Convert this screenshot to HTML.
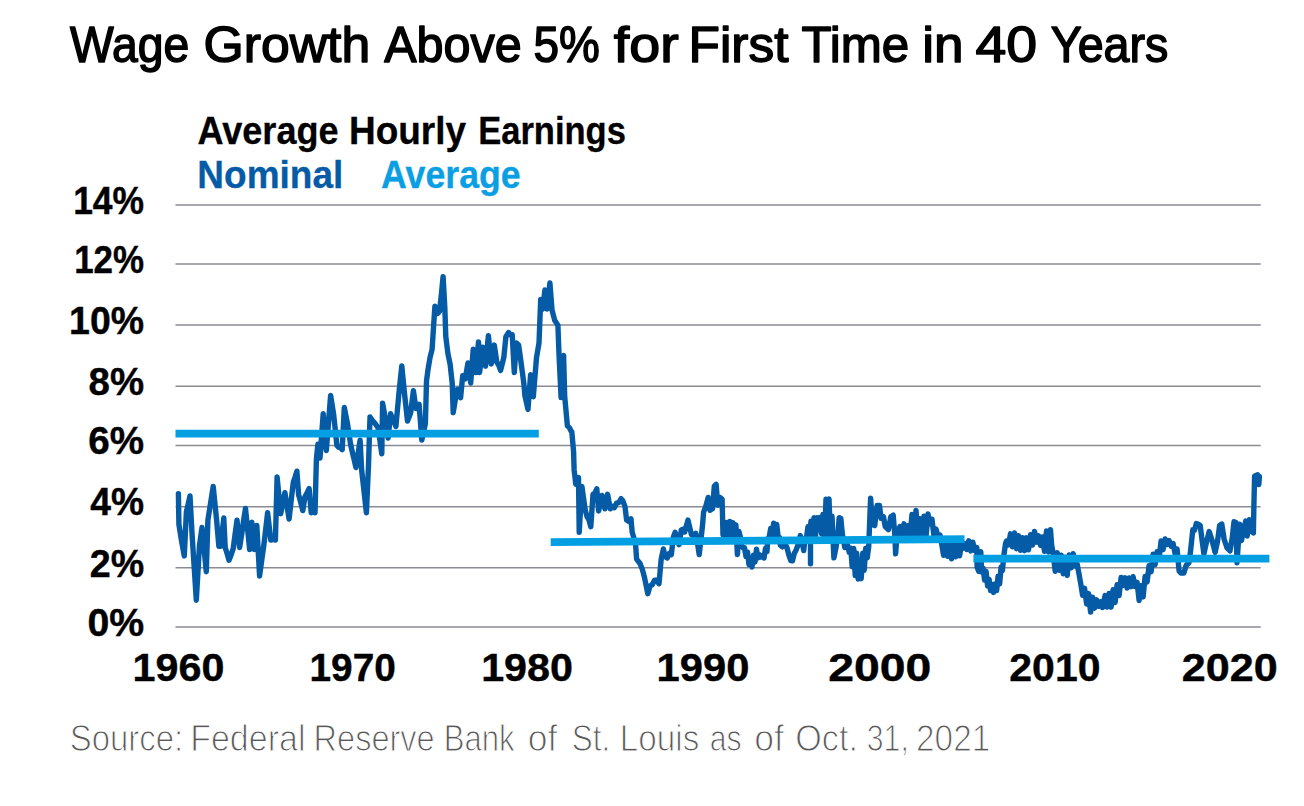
<!DOCTYPE html>
<html>
<head>
<meta charset="utf-8">
<title>Wage Growth Above 5% for First Time in 40 Years</title>
<style>
  html, body { margin:0; padding:0; background:#ffffff; }
  body { width:1304px; height:806px; overflow:hidden; font-family:"Liberation Sans", sans-serif; }
  svg { display:block; }
  text { font-family:"Liberation Sans", sans-serif; }
  .title { fill:#000; stroke:#000; stroke-width:1.5px; stroke-linejoin:round; }
  .sub { font-weight:bold; stroke-width:0.3px; }
  .k { fill:#000; stroke:#000; }
  .nom { fill:#065ba7; stroke:#065ba7; }
  .avg { fill:#0a9fe3; stroke:#0a9fe3; }
  .lab { font-weight:bold; fill:#000; stroke:#000; stroke-width:0.4px; }
  .src { fill:#585858; stroke:#ffffff; stroke-width:1.1px; paint-order:fill stroke; }
  .grid line { stroke:#8b8b93; stroke-width:1.5; }
</style>
</head>
<body>
<svg width="1304" height="806" viewBox="0 0 1304 806">
<rect x="0" y="0" width="1304" height="806" fill="#ffffff"/>

<g class="grid">
<line x1="175.5" x2="1260.7" y1="627.10" y2="627.10"/>
<line x1="175.5" x2="1260.7" y1="567.80" y2="567.80"/>
<line x1="175.5" x2="1260.7" y1="506.70" y2="506.70"/>
<line x1="175.5" x2="1260.7" y1="445.60" y2="445.60"/>
<line x1="175.5" x2="1260.7" y1="386.30" y2="386.30"/>
<line x1="175.5" x2="1260.7" y1="325.00" y2="325.00"/>
<line x1="175.5" x2="1260.7" y1="264.00" y2="264.00"/>
<line x1="175.5" x2="1260.7" y1="204.90" y2="204.90"/>
</g>

<text class="title" font-size="50.5" transform="translate(70.00,62.2) scale(0.9167,1)">Wage</text>
<text class="title" font-size="50.5" transform="translate(203.45,62.2) scale(1.0242,1)">Growth</text>
<text class="title" font-size="50.5" transform="translate(384.20,62.2) scale(0.9610,1)">Above</text>
<text class="title" font-size="50.5" transform="translate(533.48,62.2) scale(0.9089,1)">5%</text>
<text class="title" font-size="50.5" transform="translate(613.80,62.2) scale(1.1012,1)">for</text>
<text class="title" font-size="50.5" transform="translate(688.53,62.2) scale(1.0177,1)">First</text>
<text class="title" font-size="50.5" transform="translate(801.52,62.2) scale(0.9761,1)">Time</text>
<text class="title" font-size="50.5" transform="translate(922.15,62.2) scale(1.0506,1)">in</text>
<text class="title" font-size="50.5" transform="translate(975.40,62.2) scale(1.0964,1)">40</text>
<text class="title" font-size="50.5" transform="translate(1050.78,62.2) scale(0.9245,1)">Years</text>
<text class="sub k" font-size="38" transform="translate(197.50,144.1) scale(0.9496,1)">Average</text>
<text class="sub k" font-size="38" transform="translate(349.05,144.1) scale(0.9728,1)">Hourly</text>
<text class="sub k" font-size="38" transform="translate(478.18,144.1) scale(0.9087,1)">Earnings</text>
<text class="sub nom" font-size="38" transform="translate(197.35,187.8) scale(0.9735,1)">Nominal</text>
<text class="sub avg" font-size="38" transform="translate(381.10,187.8) scale(0.9394,1)">Average</text>
<text class="lab" font-size="38.6" transform="translate(87.38,635.8) scale(1.0173,1)">0%</text>
<text class="lab" font-size="38.6" transform="translate(89.72,576.5) scale(0.9751,1)">2%</text>
<text class="lab" font-size="38.6" transform="translate(90.30,515.4) scale(0.9647,1)">4%</text>
<text class="lab" font-size="38.6" transform="translate(88.30,454.3) scale(1.0008,1)">6%</text>
<text class="lab" font-size="38.6" transform="translate(88.60,395.0) scale(0.9953,1)">8%</text>
<text class="lab" font-size="38.6" transform="translate(69.06,333.7) scale(0.9718,1)">10%</text>
<text class="lab" font-size="38.6" transform="translate(74.19,272.7) scale(0.9051,1)">12%</text>
<text class="lab" font-size="38.6" transform="translate(73.16,213.6) scale(0.9184,1)">14%</text>
<text class="lab" font-size="38.6" transform="translate(132.56,680.8) scale(1.0696,1)">1960</text>
<text class="lab" font-size="38.6" transform="translate(309.49,680.8) scale(1.0053,1)">1970</text>
<text class="lab" font-size="38.6" transform="translate(481.16,680.8) scale(1.0696,1)">1980</text>
<text class="lab" font-size="38.6" transform="translate(656.54,680.8) scale(1.0818,1)">1990</text>
<text class="lab" font-size="38.6" transform="translate(828.20,680.8) scale(1.2007,1)">2000</text>
<text class="lab" font-size="38.6" transform="translate(1009.34,680.8) scale(1.0616,1)">2010</text>
<text class="lab" font-size="38.6" transform="translate(1181.78,680.8) scale(1.1168,1)">2020</text>
<text class="src" font-size="37.6" transform="translate(69.83,751.3) scale(0.8749,1)">Source:</text>
<text class="src" font-size="37.6" transform="translate(190.19,751.3) scale(0.9044,1)">Federal</text>
<text class="src" font-size="37.6" transform="translate(313.60,751.3) scale(0.8653,1)">Reserve</text>
<text class="src" font-size="37.6" transform="translate(443.72,751.3) scale(0.8279,1)">Bank</text>
<text class="src" font-size="37.6" transform="translate(527.73,751.3) scale(0.9435,1)">of</text>
<text class="src" font-size="37.6" transform="translate(571.86,751.3) scale(0.8376,1)">St.</text>
<text class="src" font-size="37.6" transform="translate(619.85,751.3) scale(0.8844,1)">Louis</text>
<text class="src" font-size="37.6" transform="translate(709.77,751.3) scale(0.8037,1)">as</text>
<text class="src" font-size="37.6" transform="translate(754.18,751.3) scale(0.9435,1)">of</text>
<text class="src" font-size="37.6" transform="translate(795.29,751.3) scale(0.9090,1)">Oct.</text>
<text class="src" font-size="37.6" transform="translate(866.79,751.3) scale(0.8037,1)">31,</text>
<text class="src" font-size="37.6" transform="translate(916.12,751.3) scale(0.8850,1)">2021</text>

<path d="M178.4,493.8 L178.9,524.3 L181.6,541.2 L184.3,555.9 L186.4,511.7 L188.2,504.2 L190.0,495.9 L192.1,534.9 L194.2,567.4 L196.3,600.2 L199.5,545.4 L202.0,527.5 L204.2,549.8 L206.3,571.7 L207.9,520.1 L209.7,508.6 L211.4,497.9 L213.2,486.4 L216.4,518.0 L218.9,546.4 L220.6,546.4 L223.8,518.0 L225.2,547.5 L227.1,553.5 L229.0,560.2 L231.1,554.8 L233.2,548.6 L235.1,534.1 L237.0,520.1 L239.6,547.5 L241.6,534.8 L243.5,521.2 L245.5,508.5 L247.6,529.3 L249.7,549.6 L251.8,522.2 L254.3,549.6 L256.8,525.4 L259.6,576.0 L261.7,560.4 L263.8,545.4 L265.7,529.3 L267.6,512.7 L270.8,540.1 L273.1,539.5 L275.4,540.1 L277.1,476.9 L278.9,495.6 L280.7,513.8 L282.8,502.9 L284.9,492.7 L287.0,506.2 L289.1,519.0 L291.2,500.3 L293.3,482.2 L295.1,477.1 L296.9,471.2 L298.6,494.8 L300.7,502.3 L302.8,510.6 L304.9,496.9 L307.0,493.2 L309.1,488.5 L311.2,512.7 L313.1,512.1 L315.0,512.7 L316.4,459.0 L317.9,444.3 L320.0,458.0 L323.2,413.8 L326.3,450.6 L328.5,423.0 L330.6,395.4 L333.7,414.8 L336.9,445.4 L338.7,447.3 L340.4,447.7 L342.2,449.6 L344.3,407.4 L347.4,423.2 L350.6,444.3 L352.4,452.4 L354.1,459.4 L355.9,467.5 L358.0,454.1 L360.1,440.1 L361.6,469.6 L364.0,490.9 L366.4,512.8 L368.5,465.4 L370.0,416.9 L372.4,420.6 L374.8,423.2 L378.0,427.5 L379.9,440.4 L381.8,453.8 L382.6,403.2 L385.4,419.0 L388.1,438.0 L390.6,413.8 L392.4,418.4 L394.1,421.8 L395.9,426.4 L399.1,391.6 L401.8,365.9 L404.3,391.6 L407.5,421.1 L410.7,412.7 L413.4,390.6 L415.9,408.5 L419.1,404.3 L421.8,440.1 L423.6,432.5 L425.4,423.2 L426.5,381.1 L427.9,370.4 L430.0,357.7 L432.1,349.3 L434.9,306.1 L437.4,313.5 L439.5,311.4 L441.6,292.4 L443.1,276.6 L444.8,307.2 L445.8,336.7 L447.9,353.5 L450.1,364.1 L452.2,383.0 L453.2,412.6 L455.3,399.9 L457.4,389.4 L460.6,397.8 L462.7,375.7 L465.2,378.8 L468.0,363.0 L470.7,383.0 L473.2,349.3 L475.8,372.5 L478.5,341.9 L479.6,372.5 L482.7,347.2 L485.5,366.2 L488.4,335.6 L491.2,364.1 L494.3,345.1 L496.8,362.0 L498.7,365.1 L500.6,370.4 L503.8,357.7 L505.9,336.7 L508.6,332.5 L510.4,334.8 L512.2,334.6 L514.3,372.5 L516.4,343.0 L518.6,345.0 L520.7,359.9 L523.8,383.0 L524.9,395.7 L528.0,409.4 L530.6,374.6 L533.3,396.7 L536.5,357.7 L539.0,343.0 L540.7,299.5 L542.8,309.0 L544.9,290.0 L547.0,309.0 L549.9,283.0 L552.0,310.0 L554.8,320.6 L557.9,325.2 L559.0,354.3 L561.1,397.5 L563.6,355.4 L564.7,396.5 L567.4,426.0 L569.3,427.5 L571.2,431.3 L571.8,431.7 L573.6,451.8 L574.1,469.7 L575.8,484.2 L578.5,477.5 L579.2,532.3 L581.9,486.5 L585.2,509.9 L587.1,516.9 L588.9,519.7 L590.8,526.7 L593.0,494.3 L594.9,493.1 L596.8,488.7 L598.6,511.0 L602.0,495.4 L604.9,508.8 L607.6,494.3 L610.3,508.8 L612.3,506.3 L614.3,507.7 L616.5,503.2 L618.8,502.7 L621.0,498.7 L623.0,501.1 L625.0,506.6 L626.6,520.0 L628.8,521.4 L631.0,518.9 L632.2,532.3 L635.5,543.4 L636.6,559.1 L640.0,563.5 L642.2,568.9 L644.4,577.0 L647.8,593.7 L650.0,585.9 L652.2,584.8 L654.5,580.3 L656.8,580.2 L659.0,583.7 L661.2,559.1 L663.4,549.0 L665.2,556.8 L667.2,558.0 L669.3,553.4 L671.3,554.6 L673.5,536.7 L675.1,532.3 L677.1,539.8 L679.1,544.6 L681.3,530.0 L683.0,529.2 L684.7,532.0 L688.0,520.0 L691.4,534.5 L693.6,535.9 L695.8,533.4 L697.5,543.0 L699.2,554.6 L702.5,525.6 L703.6,512.1 L705.6,506.9 L708.2,497.4 L710.0,510.4 L712.6,508.6 L714.3,486.1 L716.1,484.3 L717.8,505.2 L719.9,497.4 L722.1,499.1 L723.0,534.7 L723.9,522.5 L725.4,537.3 L726.9,522.5 L728.4,537.3 L729.9,521.4 L731.4,537.3 L732.9,522.6 L734.4,538.3 L735.9,524.9 L737.4,554.5 L738.9,531.4 L740.4,537.3 L741.5,545.5 L743.0,547.7 L744.5,547.7 L746.0,556.5 L747.5,552.0 L749.0,564.6 L750.5,559.1 L752.0,567.0 L753.5,555.1 L755.0,562.0 L756.5,549.2 L758.0,557.9 L759.5,554.7 L761.0,557.0 L762.5,555.9 L764.0,558.0 L765.5,548.4 L767.0,551.6 L767.7,538.5 L769.2,537.3 L770.7,528.5 L772.2,537.3 L773.7,523.1 L775.2,537.3 L776.7,524.4 L778.2,537.3 L779.7,537.6 L780.3,545.1 L782.5,546.9 L784.7,543.4 L786.9,547.5 L789.0,555.6 L790.8,560.5 L792.5,560.8 L794.2,553.6 L796.0,550.3 L798.1,544.8 L800.3,535.6 L802.0,541.4 L803.7,550.6 L805.0,538.5 L806.5,537.3 L808.0,526.7 L809.5,537.3 L811.0,521.1 L812.5,537.3 L814.0,517.6 L815.5,535.8 L817.0,517.7 L818.5,526.8 L820.0,517.4 L821.5,533.7 L823.0,514.4 L824.5,537.3 L826.0,499.3 L827.5,537.3 L829.0,498.9 L830.5,537.3 L832.0,516.2 L833.9,557.9 L836.0,547.4 L837.9,534.5 L839.2,517.6 L840.8,518.4 L842.4,534.5 L844.8,547.4 L847.7,545.5 L849.2,552.3 L850.7,548.1 L852.2,566.9 L853.7,548.4 L855.2,575.6 L856.7,553.1 L858.2,579.0 L859.7,567.8 L861.2,578.7 L862.7,553.1 L864.2,570.3 L865.7,548.2 L867.2,557.8 L868.7,546.9 L870.6,498.2 L872.6,524.8 L874.7,525.6 L877.1,505.5 L879.5,505.5 L881.1,518.4 L883.5,516.8 L885.2,526.5 L888.4,529.7 L890.8,516.8 L893.2,515.2 L894.8,534.5 L895.6,553.9 L897.3,531.3 L900.0,526.6 L902.0,536.8 L904.0,523.8 L906.0,536.8 L908.0,525.7 L910.0,536.8 L912.0,514.4 L914.0,533.6 L916.0,510.5 L918.0,536.8 L920.0,518.8 L922.0,536.8 L924.0,516.3 L926.0,536.8 L928.0,514.0 L930.0,523.8 L932.0,519.2 L934.0,536.8 L936.0,529.0 L938.0,536.8 L940.0,535.2 L941.6,543.6 L943.6,555.3 L945.6,543.6 L947.6,556.3 L949.6,543.6 L951.6,558.9 L953.6,543.6 L955.6,556.9 L957.6,543.6 L959.6,555.8 L961.6,543.6 L963.6,548.1 L964.8,543.6 L966.8,549.5 L968.8,540.8 L970.8,550.9 L972.8,542.2 L974.8,550.6 L976.8,547.5 L977.1,567.0 L978.6,571.1 L978.8,553.1 L980.1,567.4 L980.8,551.8 L981.6,572.0 L983.1,568.2 L984.6,580.1 L986.1,571.4 L987.6,586.1 L989.1,579.4 L990.6,590.6 L992.1,584.4 L993.6,592.4 L995.1,583.9 L996.6,590.6 L998.1,576.1 L999.6,583.9 L1001.1,567.1 L1002.4,570.6 L1004.0,554.5 L1005.6,543.2 L1006.5,541.0 L1008.5,544.9 L1010.5,533.8 L1012.5,546.9 L1014.5,532.9 L1016.5,548.7 L1018.5,535.6 L1020.5,550.3 L1022.5,537.6 L1024.5,550.7 L1026.5,537.8 L1028.5,549.8 L1030.5,534.8 L1032.5,545.1 L1034.5,531.5 L1036.5,542.2 L1038.5,535.8 L1040.5,545.3 L1042.5,536.9 L1044.5,551.3 L1046.5,531.0 L1048.5,552.1 L1050.5,529.8 L1051.6,544.8 L1053.2,553.9 L1055.2,571.3 L1057.2,552.7 L1059.2,570.3 L1061.2,555.1 L1063.2,573.7 L1065.2,557.1 L1067.2,575.4 L1069.2,554.9 L1071.2,567.8 L1073.2,553.6 L1075.2,565.9 L1077.2,564.3 L1079.0,573.9 L1080.6,582.9 L1082.6,595.2 L1084.6,588.3 L1086.6,604.0 L1088.6,593.6 L1090.6,612.1 L1092.6,597.3 L1094.6,608.2 L1096.6,599.8 L1098.6,606.3 L1100.6,601.8 L1102.6,607.5 L1104.6,597.9 L1105.1,595.6 L1107.1,607.1 L1109.1,593.5 L1111.1,607.2 L1113.1,589.8 L1115.1,602.5 L1117.1,584.8 L1119.1,595.6 L1121.1,577.5 L1123.1,585.4 L1125.1,577.8 L1127.1,588.1 L1129.1,578.0 L1131.1,586.7 L1133.1,576.7 L1135.1,586.5 L1137.1,582.4 L1139.1,600.5 L1141.1,585.6 L1143.1,596.9 L1145.1,576.5 L1147.1,581.9 L1149.1,565.7 L1151.1,571.8 L1153.1,554.3 L1155.1,564.7 L1157.1,551.6 L1159.1,558.4 L1161.1,540.9 L1163.1,549.5 L1165.1,539.0 L1167.1,544.4 L1169.1,540.7 L1171.1,546.1 L1173.1,543.5 L1175.1,553.8 L1177.1,549.0 L1179.1,570.9 L1180.9,573.0 L1183.9,573.0 L1186.1,565.5 L1189.1,562.5 L1190.6,550.6 L1192.8,529.8 L1194.5,530.3 L1196.3,523.6 L1198.0,524.1 L1200.2,525.6 L1202.5,543.4 L1203.9,553.9 L1206.2,543.4 L1209.2,531.5 L1212.1,540.5 L1215.1,552.4 L1217.4,542.0 L1219.6,525.6 L1221.8,524.1 L1224.1,539.0 L1227.0,547.9 L1230.0,550.9 L1232.3,537.5 L1234.0,521.8 L1236.0,522.6 L1237.0,562.8 L1238.5,540.5 L1239.7,524.1 L1241.5,540.5 L1243.4,531.5 L1245.7,521.1 L1247.2,536.0 L1249.4,519.6 L1251.6,531.5 L1253.4,533.0 L1253.9,504.7 L1254.6,476.0 L1257.6,474.9 L1258.8,484.6 L1259.4,476.4" fill="none" stroke="#065ba7" stroke-width="5.4" stroke-linejoin="round" stroke-linecap="round"/>

 <path d="M810.5,545 L810.5,563.8" fill="none" stroke="#065ba7" stroke-width="5.4" stroke-linecap="round"/>
<g stroke="#049fe2" stroke-width="7.8" fill="none">
<line x1="175.5" y1="433.6" x2="538.8" y2="433.6"/>
<line x1="550.7" y1="542.1" x2="964.5" y2="539.2"/>
<line x1="973.4" y1="558.6" x2="1269.4" y2="558.6"/>
</g>
</svg>
</body>
</html>
